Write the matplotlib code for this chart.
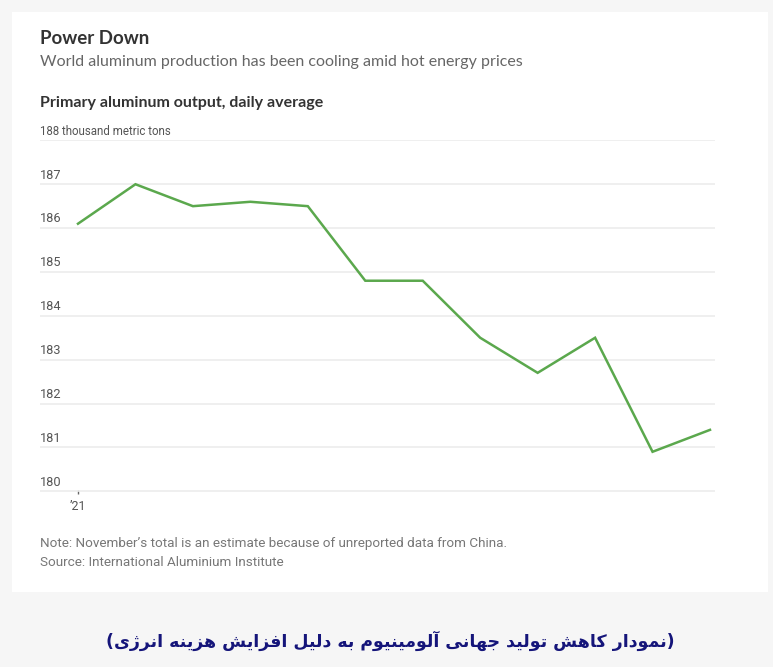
import matplotlib
matplotlib.use("Agg")
import matplotlib.pyplot as plt
from matplotlib.patches import Rectangle

# ---- data ----
months = list(range(12))
output = [186.1, 187.0, 186.5, 186.6, 186.5, 184.8, 184.8, 183.5, 182.7, 183.5, 180.9, 181.4]
y_ticks = [180, 181, 182, 183, 184, 185, 186, 187, 188]
y_tick_labels = ["180", "181", "182", "183", "184", "185", "186", "187", "188 thousand metric tons"]
x_tick_pos = [0]
x_tick_labels = ["\u201921"]

title = "Power Down"
subtitle = "World aluminum production has been cooling amid hot energy prices"
chart_label = "Primary aluminum output, daily average"
note = "Note: November\u2019s total is an estimate because of unreported data from China."
source = "Source: International Aluminium Institute"
caption = "نمودار کاهش تولید جهانی آلومینیوم به دلیل افزایش هزینه انرژی"

# ---- minimal Arabic/Persian shaping ----
FORMS = {
    '\u0627': ('\uFE8D', '\uFE8E', None, None),
    '\u0622': ('\uFE81', '\uFE82', None, None),
    '\u0628': ('\uFE8F', '\uFE90', '\uFE91', '\uFE92'),
    '\u062A': ('\uFE95', '\uFE96', '\uFE97', '\uFE98'),
    '\u062C': ('\uFE9D', '\uFE9E', '\uFE9F', '\uFEA0'),
    '\u062F': ('\uFEA9', '\uFEAA', None, None),
    '\u0631': ('\uFEAD', '\uFEAE', None, None),
    '\u0632': ('\uFEAF', '\uFEB0', None, None),
    '\u0698': ('\uFB8A', '\uFB8B', None, None),
    '\u0634': ('\uFEB5', '\uFEB6', '\uFEB7', '\uFEB8'),
    '\u0641': ('\uFED1', '\uFED2', '\uFED3', '\uFED4'),
    '\u06A9': ('\uFB8E', '\uFB8F', '\uFB90', '\uFB91'),
    '\u0644': ('\uFEDD', '\uFEDE', '\uFEDF', '\uFEE0'),
    '\u0645': ('\uFEE1', '\uFEE2', '\uFEE3', '\uFEE4'),
    '\u0646': ('\uFEE5', '\uFEE6', '\uFEE7', '\uFEE8'),
    '\u0647': ('\uFEE9', '\uFEEA', '\uFEEB', '\uFEEC'),
    '\u0648': ('\uFEED', '\uFEEE', None, None),
    '\u06CC': ('\uFBFC', '\uFBFD', '\uFBFE', '\uFBFF'),
}


def shape(text):
    out = []
    n = len(text)
    for i, ch in enumerate(text):
        f = FORMS.get(ch)
        if f is None:
            out.append(ch)
            continue
        prev = text[i - 1] if i > 0 else None
        nxt = text[i + 1] if i < n - 1 else None
        con_prev = prev in FORMS and FORMS[prev][2] is not None
        con_next = f[2] is not None and nxt in FORMS
        if con_prev and con_next:
            out.append(f[3])
        elif con_prev:
            out.append(f[1])
        elif con_next:
            out.append(f[2])
        else:
            out.append(f[0])
    return "(" + "".join(out)[::-1] + ")"


W, H = 773, 667
fig = plt.figure(figsize=(W / 100, H / 100), dpi=100)
fig.patch.set_facecolor("#f6f6f6")


def fx(px):
    return px / W


def fy(py):
    return 1 - py / H


# white card
fig.patches.append(Rectangle((fx(12), fy(592)), fx(768) - fx(12), fy(12) - fy(592),
                             transform=fig.transFigure, facecolor="white", edgecolor="none", zorder=-10))

SMALL = "Roboto"

# axes
x0px, x1px = 40, 715
ytop, ybot = 139.5, 491.7
ax = fig.add_axes([fx(x0px), fy(ybot), fx(x1px) - fx(x0px), fy(ytop) - fy(ybot)])
ax.set_zorder(1)
ax.set_facecolor("none")
step = (710 - 78) / 11
ax.set_xlim((x0px - 78) / step, 11 + (x1px - 710) / step)
ax.set_ylim(179.99, 188.02)
for s in ax.spines.values():
    s.set_visible(False)
ax.set_yticks(y_ticks)
ax.set_yticklabels([])
ax.tick_params(axis="y", length=0)
ax.grid(axis="y", color="#ececec", linewidth=1.2)
ax.set_axisbelow(True)
ax.set_xticks(x_tick_pos)
ax.set_xticklabels(x_tick_labels, fontsize=9, color="#555555", family=SMALL)
ax.tick_params(axis="x", length=2.5, width=1, color="#666666", pad=5, direction="inout")

ax.plot(months, output, color="#5ba84d", linewidth=1.8, solid_joinstyle="miter", clip_on=False)

# y labels above gridlines, left aligned
for v, lab in zip(y_ticks, y_tick_labels):
    ax.text(0, v + 0.06, lab, transform=ax.get_yaxis_transform(), ha="left", va="bottom",
            fontsize=9.2 if v < 188 else 8.3, color="#555555", family=SMALL)

# titles
fig.text(fx(40), fy(39), title, ha="left", va="center", fontsize=13.5, fontweight="bold",
         color="#333333", family="Lato")
fig.text(fx(40), fy(62), subtitle, ha="left", va="center", fontsize=11.5,
         color="#666666", family="Lato")
fig.text(fx(40), fy(103), chart_label, ha="left", va="center", fontsize=11.5, fontweight="bold",
         color="#333333", family="Lato")
fig.text(fx(40), fy(544), note, ha="left", va="center", fontsize=9.7,
         color="#777777", family=SMALL)
fig.text(fx(40), fy(563), source, ha="left", va="center", fontsize=9.7,
         color="#777777", family=SMALL)

fig.text(fx(390), fy(641), shape(caption), ha="center", va="center", fontsize=12.5,
         fontweight="bold", color="#15157a", family="DejaVu Sans")

fig.savefig("out.png", dpi=100, facecolor=fig.get_facecolor())
